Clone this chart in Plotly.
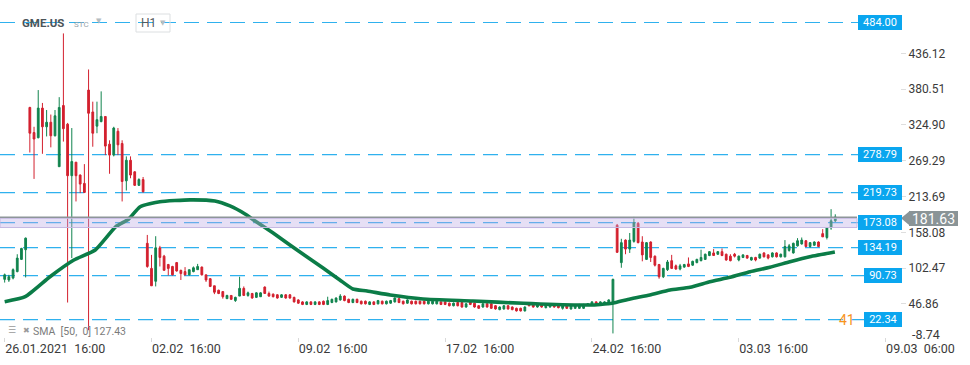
import plotly.graph_objects as go

# ---------------- data ----------------
opens = [85,84,87,97,116,131,352,313,305,351,322,329,308,260,355,326,246,267,247,234,
         379,345,323,330,338,295,278,315,296,238,270,252,231,240,141,102,82,134,121,108,
         105,111,99,97,92,97,100,104,92,86,75,68,66,55,60,52,59,71,60,63,
         57,58,73,63,62,61,57,61,61,57,53,50,46,50,46,50,51,46,49,50,
         53,59,54,49,54,51,51,46,50,47,51,47,48,50,55,51,48,51,51,51,
         51,47,47,47,50,50,48,44,49,49,42,50,48,44,42,47,47,44,38,39,
         44,42,40,40,36,48,46,42,46,41,42,46,46,40,45,39,40,40,40,45,
         45,50,46,46,46,50,169,111,146,132,144,172,143,116,143,121,108,89,100,114,
         106,101,104,109,107,111,114,116,122,126,124,128,124,121,124,115,119,122,115,119,
         118,126,123,120,126,120,120,130,126,137,140,145,136,138,143,156,150,165,176]
highs = [94,92,102,124,134,150,353,322,379,359,348,341,348,368,467,328,320,267,248,264,
         411,361,361,377,338,301,322,320,301,276,276,253,242,244,154,123,152,137,123,109,
         106,112,100,104,100,105,109,105,92,87,75,69,66,61,60,58,89,74,66,64,
         65,65,74,66,63,62,62,62,62,58,54,51,51,51,51,51,52,58,55,57,
         62,60,55,55,55,52,52,51,51,53,52,52,53,57,56,52,54,52,52,52,
         52,52,52,52,51,51,49,49,50,50,48,51,49,45,48,48,48,45,43,45,
         45,43,41,41,43,49,47,47,47,47,47,47,47,47,46,46,46,47,47,48,
         51,51,51,51,54,86,171,148,147,157,182,174,152,143,144,122,109,103,115,123,
         108,109,109,119,114,117,131,125,129,132,129,133,125,124,126,122,124,123,120,120,
         125,127,124,127,127,125,146,140,142,149,150,146,143,144,144,163,166,194,186]
lows = [80,81,85,96,115,88,282,241,304,280,307,290,307,260,299,49,118,206,219,219,
        6,291,312,329,278,249,276,278,206,223,242,230,230,220,103,75,74,105,99,91,
        91,97,84,91,91,96,100,91,81,73,62,62,55,55,53,50,59,60,58,55,
        56,58,63,58,57,55,56,55,55,49,47,45,45,45,45,45,45,45,48,49,
        52,51,48,48,48,46,46,45,45,46,46,46,47,49,48,46,47,46,46,46,
        46,46,46,46,45,45,43,43,43,41,41,45,41,39,41,41,39,38,37,38,
        38,37,35,35,35,43,41,41,41,40,41,41,40,38,39,38,39,39,39,44,
        44,45,45,45,45,1,126,103,124,126,142,141,113,115,112,105,86,87,98,101,
        100,99,103,104,106,110,113,115,121,122,123,121,114,113,119,113,118,117,114,113,
        117,119,116,119,119,119,119,128,125,136,139,135,134,137,135,151,147,162,174]
closes = [92,89,100,118,133,149,312,303,351,322,329,308,339,352,319,246,268,246,233,220,
          343,312,333,338,292,278,320,294,237,270,247,231,240,221,105,75,134,119,99,102,
          92,98,94,92,100,103,105,92,84,74,65,63,58,60,54,57,71,60,64,56,
          64,64,63,59,58,56,61,56,56,50,48,46,50,46,50,46,46,52,54,56,
          59,52,49,54,49,47,47,50,46,52,47,51,52,56,49,47,53,47,47,47,
          47,51,51,51,46,46,44,48,44,42,47,46,42,40,47,42,40,39,42,44,
          39,38,36,36,42,44,42,46,42,46,46,42,41,46,40,45,45,46,46,47,
          50,46,50,50,53,85,127,142,132,146,173,142,123,142,119,107,89,102,112,102,
          101,106,108,105,113,116,119,124,128,122,128,122,115,114,121,121,123,118,119,115,
          124,120,118,126,120,124,136,137,141,145,146,136,142,143,136,151,165,176,182]

# SMA(50) path read at sample points (bar index, value)
sma_idx = [0, 4.9, 10.8, 16.5, 21.6, 26.5, 29.5, 32.3, 37.0, 44.2, 50.1, 53.7, 57.3, 59.7,
           64.0, 68.0, 72.1, 75.9, 79.9, 83.0, 86.4, 91.9, 99.7, 111.6, 123.6, 127.6,
           139.5, 142.0, 144.8, 149.1, 153.8, 158.6, 163.4, 168.1, 172.9, 177.7, 182.4,
           187.2, 191.9, 197.9]
sma_vals = [50.3, 58.1, 89.1, 115.0, 130.6, 166.8, 178.3, 197.8, 205.6, 208.5, 206.7, 199.0,
            186.5, 175.6, 156.9, 138.3, 119.7, 102.6, 84.0, 70.0, 66.9, 60.7, 54.5, 51.4,
            47.8, 46.7, 45.1, 46.0, 47.8, 54.5, 60.7, 68.4, 72.6, 81.3, 88.2, 96.9, 103.6,
            112.4, 120.2, 127.5]

x_tick_idx = [0, 35, 70, 105, 140, 175, 210]
x_tick_text = ["26.01.2021\u00a0\u00a016:00", "02.02\u00a0\u00a016:00", "09.02\u00a0\u00a016:00",
               "17.02\u00a0\u00a016:00", "24.02\u00a0\u00a016:00", "03.03\u00a0\u00a016:00",
               "09.03\u00a0\u00a006:00"]
y_tick_vals = [436.12, 380.51, 324.90, 269.29, 213.69, 158.08, 102.47, 46.86]
y_low_label = -8.74
levels = [484.00, 278.79, 219.73, 173.08, 134.19, 90.73, 22.34]
zone_low, zone_high = 165.5, 179.8
last_price = 181.63
sma_label = "SMA  [50,  0] 127.43"

# ---------------- layout helpers ----------------
W, H = 970, 365
PLOT_W, PLOT_H = 900, 337
def px(x):
    return x / PLOT_W
def py(y):
    return 1 - y / PLOT_H

FONT = "Roboto"
GREEN = "#11844e"
RED = "#d3202e"
BLUE = "#2fb1ee"
BOXBLUE = "#0aa6ef"
GRAYTAG = "#8a9497"

bars = list(range(len(opens)))

fig = go.Figure()
fig.add_trace(go.Candlestick(
    x=bars, open=opens, high=highs, low=lows, close=closes,
    increasing=dict(line=dict(color=GREEN, width=1), fillcolor=GREEN),
    decreasing=dict(line=dict(color=RED, width=1), fillcolor=RED),
    whiskerwidth=0, hoverinfo="skip", showlegend=False))
fig.add_trace(go.Scatter(
    x=sma_idx, y=sma_vals, mode="lines",
    line=dict(color="#0b7c47", width=3.6, shape="spline", smoothing=0.5),
    hoverinfo="skip", showlegend=False))

shapes = []
annotations = []
for lv in levels:
    narrow = lv < 100
    left = 864 if narrow else 858
    shapes.append(dict(type="line", xref="paper", yref="y", x0=0, x1=px(left), y0=lv, y1=lv,
                       line=dict(color=BLUE, width=1.2, dash="15px,8px"), layer="below"))
    annotations.append(dict(xref="paper", yref="y", x=px(902), y=lv, xanchor="right",
                            yanchor="middle", text=f"{lv:.2f}", showarrow=False,
                            bgcolor=BOXBLUE, borderpad=0, borderwidth=0,
                            width=38 if narrow else 44, height=15,
                            font=dict(family=FONT, size=11, color="white")))

# shaded zone and last price line
shapes.append(dict(type="rect", xref="paper", yref="y", x0=0, x1=px(857), y0=zone_low, y1=zone_high,
                   fillcolor="rgba(190,172,228,0.38)", line=dict(color="#c5b8e2", width=1),
                   layer="above"))
shapes.append(dict(type="line", xref="paper", yref="y", x0=0, x1=px(857), y0=last_price, y1=last_price,
                   line=dict(color="#8d9699", width=1.5), layer="above"))
# last price tag: arrow tip + box
shapes.append(dict(type="path", xref="paper", yref="paper",
                   path=f"M {px(901):.5f} {py(218.3):.5f} L {px(910):.5f} {py(210.8):.5f} "
                        f"L {px(910):.5f} {py(225.8):.5f} Z",
                   fillcolor=GRAYTAG, line=dict(width=0), layer="above"))
annotations.append(dict(xref="paper", yref="paper", x=px(958), y=py(218.3), xanchor="right",
                        yanchor="middle", text=f"{last_price:.2f}", showarrow=False,
                        bgcolor=GRAYTAG, borderpad=0, borderwidth=0, width=49, height=15,
                        font=dict(family=FONT, size=14, color="white")))

# lowest axis value label
annotations.append(dict(xref="paper", yref="paper", x=px(910), y=py(334), xanchor="left",
                        yanchor="middle", text=f"{y_low_label:.2f}", showarrow=False,
                        font=dict(family=FONT, size=12.5, color="#3a3a3a")))
# orange "41"
annotations.append(dict(xref="paper", yref="paper", x=px(857), y=py(320), xanchor="right",
                        yanchor="middle", text="41", showarrow=False,
                        font=dict(family=FONT, size=14, color="#f7941d")))

# top-left header
annotations += [
    dict(xref="paper", yref="paper", x=px(20), y=py(23), xanchor="left", yanchor="middle",
         text="<b>GME.US</b>", showarrow=False, font=dict(family=FONT, size=11.5, color="#4b5459")),
    dict(xref="paper", yref="paper", x=px(72), y=py(24), xanchor="left", yanchor="middle",
         text="STC", showarrow=False, font=dict(family=FONT, size=8, color="#97a4ab")),
    dict(xref="paper", yref="paper", x=px(94), y=py(21), xanchor="left", yanchor="middle",
         text="\u25BC", showarrow=False, font=dict(family="DejaVu Sans", size=7, color="#b5bdc1")),
    dict(xref="paper", yref="paper", x=px(139), y=py(23), xanchor="left", yanchor="middle",
         text="H1", showarrow=False, font=dict(family=FONT, size=12, color="#555b5e")),
    dict(xref="paper", yref="paper", x=px(158), y=py(23), xanchor="left", yanchor="middle",
         text="\u25BC", showarrow=False, font=dict(family="DejaVu Sans", size=7, color="#b5bdc1")),
]
shapes.append(dict(type="rect", xref="paper", yref="paper", x0=px(136), x1=px(170),
                   y0=py(32), y1=py(14), line=dict(color="#dcdfe1", width=1),
                   fillcolor="rgba(0,0,0,0)", layer="above"))

# bottom-left SMA legend
annotations += [
    dict(xref="paper", yref="paper", x=px(6), y=py(330), xanchor="left", yanchor="middle",
         text="\u2630", showarrow=False, font=dict(family="DejaVu Sans", size=9, color="#9a9a9a")),
    dict(xref="paper", yref="paper", x=px(21), y=py(330), xanchor="left", yanchor="middle",
         text="\u2716", showarrow=False, font=dict(family="DejaVu Sans", size=8, color="#9a9a9a")),
    dict(xref="paper", yref="paper", x=px(31), y=py(331), xanchor="left", yanchor="middle",
         text=sma_label, showarrow=False, font=dict(family=FONT, size=10.5, color="#7b7b7b")),
]

y_top = 436.12 + 53.3 * 1.5533
y_bot = 436.12 - (PLOT_H - 53.3) * 1.5533
x_left = -4.67 / 4.195
x_right = (PLOT_W - 4.67) / 4.195

fig.update_layout(
    width=W, height=H,
    margin=dict(l=0, r=W - PLOT_W, t=0, b=H - PLOT_H),
    paper_bgcolor="white", plot_bgcolor="white",
    showlegend=False, boxgap=0.4,
    font=dict(family=FONT, size=12, color="#3a3a3a"),
    shapes=shapes, annotations=annotations,
    xaxis=dict(range=[x_left, x_right], rangeslider=dict(visible=False),
               showgrid=False, zeroline=False, showline=False,
               tickmode="array", tickvals=x_tick_idx, ticktext=x_tick_text,
               ticks="outside", ticklen=4, tickcolor="#d9d9d9",
               ticklabelposition="outside right",
               tickfont=dict(family=FONT, size=12.5, color="#3a3a3a")),
    yaxis=dict(side="right", range=[y_bot, y_top], showgrid=False, zeroline=False,
               showline=False, tickmode="array", tickvals=y_tick_vals,
               ticktext=[f"{v:.2f}" for v in y_tick_vals],
               ticks="outside", ticklen=5, tickcolor="#dedede",
               tickfont=dict(family=FONT, size=12, color="#3a3a3a")),
)

fig.write_html("out.html", config={"displayModeBar": False},
               post_script="document.body.style.margin='0';document.body.style.padding='0';")
